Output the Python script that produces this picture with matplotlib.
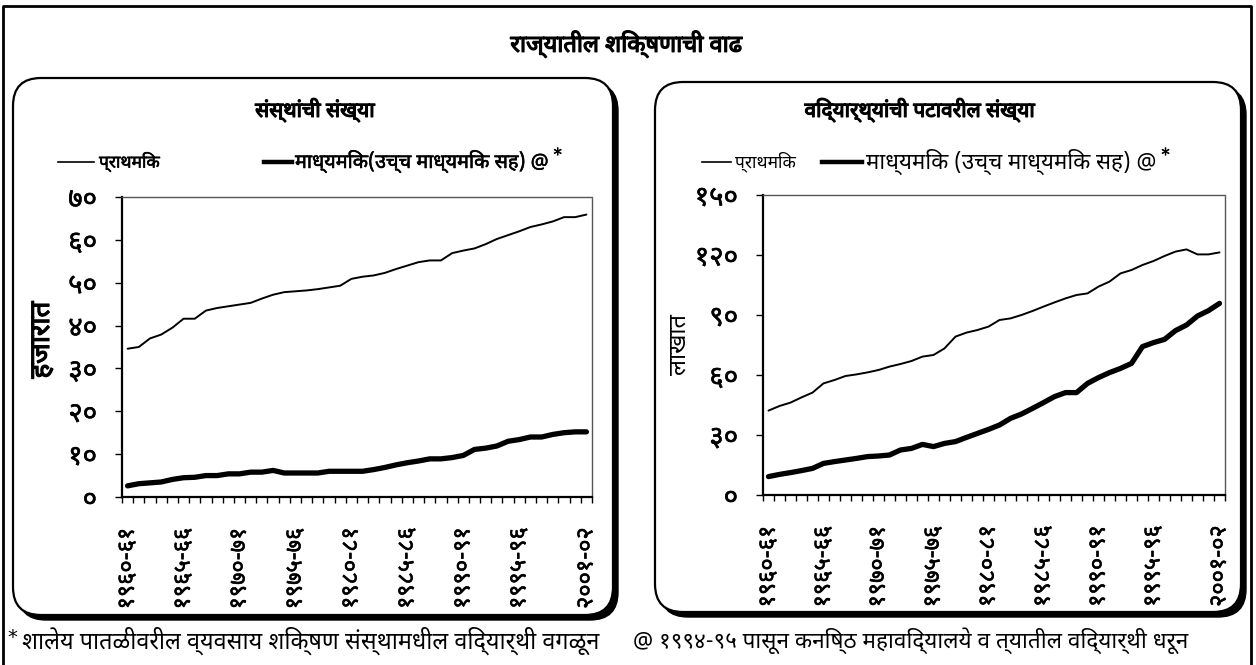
import matplotlib
matplotlib.use("Agg")
import matplotlib.pyplot as plt
import matplotlib.patheffects as pe
from matplotlib import font_manager
from matplotlib.ft2font import FT2Font
from matplotlib.patches import FancyBboxPatch
from matplotlib.lines import Line2D
from matplotlib.ticker import FixedLocator

# ---------------------------------------------------------------- data
years = [f"{y}-{str(y + 1)[-2:]}" for y in range(1960, 2002)]
label_idx = [0, 5, 10, 15, 20, 25, 30, 35, 41]

# institutions (thousands)
inst_primary = [34.6, 35.0, 37.0, 37.9, 39.5, 41.6, 41.6, 43.5, 44.1, 44.5,
                44.9, 45.3, 46.3, 47.2, 47.8, 48.0, 48.2, 48.5, 48.9, 49.3,
                50.9, 51.4, 51.7, 52.3, 53.2, 54.0, 54.8, 55.2, 55.2, 56.9,
                57.5, 58.0, 59.0, 60.2, 61.1, 62.0, 63.0, 63.6, 64.3, 65.3,
                65.3, 65.9]
inst_secondary = [2.6, 3.1, 3.3, 3.5, 4.1, 4.5, 4.6, 5.0, 5.0, 5.4,
                  5.4, 5.8, 5.8, 6.2, 5.6, 5.6, 5.6, 5.6, 6.0, 6.0,
                  6.0, 6.0, 6.4, 6.9, 7.5, 8.0, 8.4, 8.9, 8.9, 9.2,
                  9.7, 11.1, 11.4, 11.9, 13.0, 13.4, 14.0, 14.0, 14.6, 15.0,
                  15.2, 15.2]

# enrolment (lakh)
enr_primary = [42.2, 44.5, 46.2, 48.8, 51.2, 55.8, 57.5, 59.5, 60.3, 61.3,
               62.5, 64.2, 65.5, 67.0, 69.2, 70.0, 73.3, 79.2, 81.2, 82.5,
               84.2, 87.5, 88.3, 90.0, 92.0, 94.2, 96.3, 98.3, 100.0, 100.8,
               104.2, 106.7, 110.8, 112.5, 115.0, 117.0, 119.5, 121.7, 122.8, 120.3,
               120.3, 121.3]
enr_secondary = [9.2, 10.3, 11.2, 12.2, 13.3, 15.8, 16.7, 17.5, 18.3, 19.2,
                 19.5, 20.0, 22.5, 23.3, 25.3, 24.2, 25.8, 26.7, 28.8, 30.8,
                 32.8, 35.0, 38.3, 40.5, 43.3, 46.2, 49.2, 51.2, 51.2, 55.8,
                 58.7, 61.2, 63.3, 65.8, 74.2, 76.2, 77.8, 82.2, 85.0, 89.5,
                 92.2, 95.8]

inst_yticks = [0, 10, 20, 30, 40, 50, 60, 70]
enr_yticks = [0, 30, 60, 90, 120, 150]

title = "राज्यातील शिक्षणाची वाढ"
left_title = "संस्थांची संख्या"
right_title = "विद्यार्थ्यांची पटावरील संख्या"
lab_primary = "प्राथमिक"
lab_secondary_l = "माध्यमिक(उच्च माध्यमिक सह) @"
lab_secondary_r = "माध्यमिक (उच्च माध्यमिक सह) @"
left_ylabel = "हजारात"
right_ylabel = "लाखात"
note_left = "शालेय पातळीवरील व्यवसाय शिक्षण संस्थामधील विद्यार्थी वगळून"
note_right = "@ १९९४-९५ पासून कनिष्ठ महाविद्यालये व त्यातील विद्यार्थी धरून"

DEV_DIGITS = str.maketrans("0123456789", "०१२३४५६७८९")


def dev(s):
    return str(s).translate(DEV_DIGITS)


# ---------------------------------------------------------------- fonts
def devanagari_family():
    preferred = ["Noto Sans Devanagari", "Lohit Devanagari", "Mukta",
                 "Hind", "Noto Serif Devanagari", "FreeSans", "Mangal"]
    found = []
    for f in font_manager.fontManager.ttflist:
        try:
            if ord("क") in FT2Font(f.fname).get_charmap():
                found.append(f.name)
        except Exception:
            pass
    for p in preferred:
        if p in found:
            return p
    return found[0] if found else "DejaVu Sans"


DEV = devanagari_family()
FAM = [DEV, "DejaVu Sans"]
plt.rcParams["font.family"] = FAM

# stroke outline to thicken glyphs where a heavy weight is wanted
BOLD = [pe.withStroke(linewidth=0.9, foreground="black")]
SEMI = [pe.withStroke(linewidth=0.4, foreground="black")]

W, H = 1256, 665
fig = plt.figure(figsize=(W / 100, H / 100), dpi=100)

# full-figure canvas in pixel units for frames and free text
bg = fig.add_axes([0, 0, 1, 1], zorder=0)
bg.set_xlim(0, W)
bg.set_ylim(H, 0)
bg.axis("off")

# outer frame
bg.add_line(Line2D([3, 3, 1251, 1251], [H + 5, 6, 6, H + 5], color="black", lw=2))


def panel(x0, y0, x1, y1):
    shadow = FancyBboxPatch((x0 + 5, y0 + 5), x1 - x0, y1 - y0,
                            boxstyle="round,pad=0,rounding_size=28",
                            fc="black", ec="black", lw=1, zorder=1)
    box = FancyBboxPatch((x0, y0), x1 - x0, y1 - y0,
                         boxstyle="round,pad=0,rounding_size=28",
                         fc="white", ec="black", lw=1.6, zorder=2)
    bg.add_patch(shadow)
    bg.add_patch(box)


panel(13, 78, 613, 615)
panel(655, 82, 1241, 612)

bg.text(626, 44, title, ha="center", va="center", fontsize=17,
        path_effects=BOLD)
bg.text(315, 110, left_title, ha="center", va="center", fontsize=15,
        path_effects=BOLD)
bg.text(920, 110, right_title, ha="center", va="center", fontsize=15,
        path_effects=BOLD)

# legends
bg.add_line(Line2D([58, 94], [162, 162], color="black", lw=1.2, zorder=3))
bg.text(99, 162, lab_primary, ha="left", va="center", fontsize=12.5, zorder=3,
        path_effects=SEMI)
bg.add_line(Line2D([264, 292], [162, 162], color="black", lw=3.2, zorder=3))
leg_l = bg.text(295, 162, lab_secondary_l, ha="left", va="center",
                fontsize=14.3, zorder=3, path_effects=SEMI)

bg.add_line(Line2D([702, 731], [162, 162], color="black", lw=1.2, zorder=3))
bg.text(735, 162, lab_primary, ha="left", va="center", fontsize=12.5, zorder=3)
bg.add_line(Line2D([822, 862], [162, 162], color="black", lw=3.2, zorder=3))
leg_r = bg.text(866, 162, lab_secondary_r, ha="left", va="center",
                fontsize=16, zorder=3)

# axis titles
bg.text(42, 340, left_ylabel, ha="center", va="center", rotation=90,
        fontsize=20, zorder=3, path_effects=BOLD)
bg.text(680, 345, right_ylabel, ha="center", va="center", rotation=90,
        fontsize=17, zorder=3)

# footnotes
bg.text(7, 637, "*", ha="left", va="center", fontsize=14, family="DejaVu Sans")
bg.text(22, 641, note_left, ha="left", va="center", fontsize=16.8)
bg.text(633, 641, note_right, ha="left", va="center", fontsize=16.2)


def chart(rect, s_primary, s_secondary, yticks, ymax):
    ax = fig.add_axes(rect, zorder=5)
    ax.patch.set_alpha(0)
    x = list(range(len(years)))
    ax.plot(x, s_primary, color="black", lw=1.4, solid_capstyle="round")
    ax.plot(x, s_secondary, color="black", lw=3.8, solid_capstyle="round")
    ax.set_xlim(-0.5, len(years) - 0.5)
    ax.set_ylim(0, ymax)

    ax.set_xticks(label_idx)
    ax.set_xticklabels([dev(years[i]) for i in label_idx], rotation=90,
                       fontsize=17, va="top")
    ax.xaxis.set_minor_locator(FixedLocator([i - 0.5 for i in range(len(years) + 1)]))
    ax.tick_params(axis="x", which="major", length=0, pad=22)
    ax.tick_params(axis="x", which="minor", length=4.3, width=1, direction="out")

    ax.set_yticks(yticks)
    ax.set_yticklabels([dev(v) for v in yticks], fontsize=20)
    ax.tick_params(axis="y", length=5, width=1, direction="out", pad=13)
    for lab in ax.get_xticklabels() + ax.get_yticklabels():
        lab.set_path_effects(SEMI)

    for side in ("left", "bottom"):
        ax.spines[side].set_linewidth(1.6)
    for side in ("top", "right"):
        ax.spines[side].set_linewidth(1.0)
        ax.spines[side].set_linestyle((0, (1, 1)))
        ax.spines[side].set_color("#555555")
    return ax


chart([122 / W, 1 - 497 / H, 470 / W, 300 / H],
      inst_primary, inst_secondary, inst_yticks, 70)
chart([763 / W, 1 - 495 / H, 462 / W, 300 / H],
      enr_primary, enr_secondary, enr_yticks, 150)

# the "*" mark sits just after each secondary-series legend entry
fig.canvas.draw()
for txt in (leg_l, leg_r):
    ext = txt.get_window_extent()
    bg.text(ext.x1 + 5, 155, "*", ha="left", va="center", fontsize=12,
            family="DejaVu Sans", path_effects=SEMI, zorder=3)

fig.savefig("out.png", dpi=100)
